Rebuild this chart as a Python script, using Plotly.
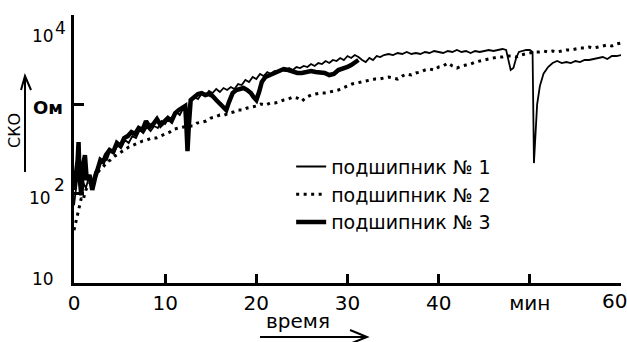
import plotly.graph_objects as go

# ---- data (time in minutes, RMS value in Ohm) ----
t1 = [0.0, 0.2, 0.4, 0.6, 0.8, 1.0, 1.3, 1.6, 2.0, 2.3, 2.6, 3.0, 3.3, 3.6, 4.0, 4.4, 4.8, 5.2, 5.6, 6.0,
      6.4, 6.8, 7.2, 7.6, 8.0, 8.4, 8.8, 9.2, 9.6, 10.0, 10.4, 10.8, 11.2, 11.6, 12.0, 12.4, 12.8, 13.2, 13.6, 14.0,
      14.4, 14.8, 15.2, 15.6, 16.0, 16.4, 16.8, 17.2, 17.6, 18.0, 18.4, 18.8, 19.2, 19.6, 20.0, 20.4, 20.8, 21.2, 21.6, 22.0,
      22.4, 22.8, 23.2, 23.6, 24.0, 24.4, 24.8, 25.2, 25.6, 26.0, 26.4, 26.8, 27.2, 27.6, 28.0, 28.4, 28.8, 29.2, 29.6, 30.0,
      30.4, 30.8, 31.2, 31.6, 32.0, 32.4, 32.8, 33.2, 33.6, 34.0, 34.5, 35.0, 35.5, 36.0, 36.5, 37.0, 37.5, 38.0, 38.5, 39.0,
      39.5, 40.0, 40.5, 41.0, 41.5, 42.0, 42.5, 43.0, 43.5, 44.0, 44.5, 45.0, 45.5, 46.0, 46.5, 47.0, 47.4, 47.7, 47.9, 48.2,
      48.5, 48.8, 49.2, 49.6, 50.0, 50.3, 50.45, 50.6, 50.8, 51.1, 51.5, 52.0, 52.5, 53.0, 53.5, 54.0, 54.5, 55.0, 55.5, 56.0,
      56.5, 57.0, 57.5, 58.0, 58.5, 59.0, 59.5, 60.0]
v1 = [74, 110, 162, 125, 184, 135, 115, 149, 131, 174, 193, 226, 250, 238, 308, 292, 350, 332, 398, 369,
      441, 419, 515, 477, 557, 502, 571, 543, 650, 602, 702, 667, 820, 759, 909, 820, 1117, 1207, 1146, 1304,
      1239, 1409, 1338, 1484, 1373, 1523, 1446, 1562, 1484, 1688, 1645, 1872, 1777, 2022, 1920, 2185, 2075, 2300, 2185, 2361,
      2300, 2422, 2361, 2551, 2422, 2617, 2551, 2686, 2617, 2828, 2686, 2901, 2828, 3055, 2901, 3135, 3055, 3301, 3135, 3475,
      3301, 3566, 3387, 3135, 2977, 3301, 3135, 3475, 3387, 3566, 3660, 3566, 3755, 3660, 3853, 3660, 3755, 3660, 3853, 3755,
      3954, 3853, 3755, 3954, 3853, 4057, 3853, 3954, 3755, 3954, 3853, 3954, 4057, 3954, 4057, 4163, 4057, 2977, 2422, 2551,
      3301, 3853, 3954, 4057, 4057, 3853, 220, 450, 1000, 1600, 2200, 2617, 2901, 3055, 2901, 2977, 2901, 3055, 2977, 3135,
      3135, 3217, 3301, 3387, 3217, 3475, 3475, 3566]

t2 = [0.0, 0.2, 0.4, 0.6, 0.8, 1.0, 1.3, 1.6, 2.0, 2.4, 2.8, 3.2, 3.6, 4.0, 4.5, 5.0, 5.5, 6.0, 6.5, 7.0,
      7.5, 8.0, 8.5, 9.0, 9.5, 10.0, 10.5, 11.0, 11.5, 12.0, 12.5, 13.0, 13.5, 14.0, 14.5, 15.0, 15.5, 16.0, 16.5, 17.0,
      17.5, 18.0, 18.5, 19.0, 19.5, 20.0, 20.5, 21.0, 21.5, 22.0, 22.5, 23.0, 23.5, 24.0, 24.5, 25.0, 25.5, 26.0, 26.5, 27.0,
      27.5, 28.0, 28.5, 29.0, 29.5, 30.0, 30.5, 31.0, 31.5, 32.0, 32.5, 33.0, 33.5, 34.0, 34.5, 35.0, 35.5, 36.0, 36.5, 37.0,
      37.5, 38.0, 38.5, 39.0, 39.5, 40.0, 40.5, 41.0, 41.5, 42.0, 42.5, 43.0, 43.5, 44.0, 44.5, 45.0, 45.5, 46.0, 46.5, 47.0,
      47.5, 48.0, 48.5, 49.0, 49.5, 50.0, 50.5, 51.0, 51.5, 52.0, 52.5, 53.0, 53.5, 54.0, 54.5, 55.0, 55.5, 56.0, 56.5, 57.0,
      57.5, 58.0, 58.5, 59.0, 59.5, 60.0]
v2 = [39, 48, 58, 74, 89, 85, 110, 125, 142, 157, 184, 199, 226, 238, 264, 285, 308, 332, 350, 369,
      388, 398, 419, 419, 441, 465, 489, 529, 543, 557, 571, 571, 617, 633, 650, 702, 721, 759, 759, 799,
      820, 863, 863, 909, 933, 957, 1008, 982, 1034, 1034, 1061, 1117, 1146, 1207, 1176, 1089, 1207, 1271, 1304, 1338,
      1338, 1373, 1409, 1446, 1523, 1603, 1688, 1732, 1777, 1824, 1872, 1920, 1920, 1971, 2022, 1971, 1920, 2075, 2185, 2129,
      2242, 2300, 2422, 2486, 2422, 2617, 2686, 2901, 2686, 2551, 2686, 2756, 2828, 2977, 3055, 3135, 3217, 3301, 3387, 3387,
      3475, 3475, 3387, 3566, 3660, 3755, 3853, 3853, 3954, 3853, 3954, 3853, 3954, 4057, 4057, 4163, 4271, 4271, 4382, 4271,
      4382, 4497, 4615, 4497, 4735, 4860]

t3 = [0.0, 0.2, 0.4, 0.5, 0.6, 0.8, 1.0, 1.2, 1.4, 1.7, 2.0, 2.3, 2.6, 2.9, 3.2, 3.5, 3.9, 4.3, 4.7, 5.1,
      5.5, 5.9, 6.3, 6.7, 7.1, 7.5, 7.9, 8.3, 8.7, 9.1, 9.5, 9.9, 10.3, 10.7, 11.1, 11.5, 11.9, 12.2, 12.35, 12.45,
      12.6, 12.8, 13.2, 13.6, 14.0, 14.4, 14.8, 15.2, 15.6, 16.0, 16.4, 16.7, 17.0, 17.4, 17.8, 18.2, 18.6, 19.0, 19.4, 19.7,
      20.0, 20.3, 20.6, 21.0, 21.5, 22.0, 22.5, 23.0, 23.5, 24.0, 24.5, 25.0, 25.5, 26.0, 26.5, 27.0, 27.5, 28.0, 28.5, 29.0,
      29.5, 30.0, 30.4, 30.8, 31.2]
v3 = [110, 162, 238, 378, 162, 96, 209, 270, 142, 162, 110, 149, 184, 238, 226, 270, 308, 292, 369, 341,
      419, 441, 489, 465, 543, 515, 650, 557, 602, 684, 586, 633, 702, 650, 799, 863, 909, 957, 515, 300,
      586, 1117, 1207, 1304, 1338, 1271, 1304, 1239, 1117, 1008, 909, 863, 1061, 1338, 1446, 1484, 1523, 1446, 1338, 1207,
      1117, 1373, 1777, 2022, 2129, 2242, 2422, 2486, 2422, 2300, 2242, 2242, 2300, 2361, 2300, 2300, 2242, 2129, 2185, 2422,
      2486, 2617, 2756, 2977, 3135]

names = ["подшипник № 1", "подшипник № 2", "подшипник № 3"]
x_tickvals = [0, 10, 20, 30, 40, 50, 60]
x_ticktext = ["0", "10", "20", "30", "40", "мин", ""]
x_last_label = "60"
y_tickvals = [10, 100, 1000, 10000]

FONT = "DejaVu Sans"

fig = go.Figure()
fig.add_trace(go.Scatter(x=t1, y=v1, mode="lines", name=names[0],
                         line=dict(color="black", width=1.8)))
fig.add_trace(go.Scatter(x=t2, y=v2, mode="lines", name=names[1],
                         line=dict(color="black", width=3, dash="3px,4.5px")))
fig.add_trace(go.Scatter(x=t3, y=v3, mode="lines", name=names[2],
                         line=dict(color="black", width=4.5)))

fig.update_layout(
    width=627, height=342,
    margin=dict(l=74, r=6, t=15, b=59, autoexpand=False),
    paper_bgcolor="white", plot_bgcolor="white",
    font=dict(family=FONT, size=20, color="black"),
    showlegend=True,
    legend=dict(x=0.397, y=0.505, xanchor="left", yanchor="top",
                bgcolor="rgba(0,0,0,0)", font=dict(size=19, family=FONT),
                tracegroupgap=0),
    xaxis=dict(range=[0, 60], showgrid=False, zeroline=False, automargin=False,
               showline=True, linecolor="black", linewidth=2.5,
               ticks="inside", ticklen=9, tickwidth=2.5, tickcolor="black",
               tickvals=x_tickvals, ticktext=x_ticktext,
               tickfont=dict(size=20, family=FONT)),
    yaxis=dict(type="log", range=[1, 4], showgrid=False, zeroline=False, automargin=False,
               showline=True, linecolor="black", linewidth=2.5,
               ticks="inside", ticklen=10, tickwidth=2.5, tickcolor="black",
               tickvals=y_tickvals, showticklabels=False),
)

def px2paper(px, py):
    return (px - 74) / 547.0, (283 - py) / 268.0

def ann(text, px, py, size, bold=False, angle=0):
    xp, yp = px2paper(px, py)
    fig.add_annotation(x=xp, y=yp, xref="paper", yref="paper", text=("<b>%s</b>" % text) if bold else text,
                       showarrow=False, xanchor="center", yanchor="middle", textangle=angle,
                       font=dict(size=size, family=FONT, color="black"))

# x label at the right end (kept inside the canvas)
ann(x_last_label, 614, 301, 20)
# y tick labels
ann("10", 43, 36, 17)
ann("4", 60, 28, 17)
ann("Ом", 48, 107, 18, bold=True)
ann("10", 40, 198, 17)
ann("2", 59, 185, 17)
ann("10", 43, 279, 17)
# axis titles
ann("СКО", 14, 131, 16, angle=-90)
ann("время", 298, 321, 20)

def seg_path(points):
    pts = [px2paper(a, b) for a, b in points]
    return "M " + " L ".join("%.4f,%.4f" % p for p in pts)

arrow_style = dict(color="black", width=2)
# vertical arrow near СКО
fig.add_shape(type="path", xref="paper", yref="paper", path=seg_path([(25, 172), (25, 77)]), line=arrow_style)
fig.add_shape(type="path", xref="paper", yref="paper", path=seg_path([(21, 90), (25, 76), (31, 90)]), line=arrow_style)
# horizontal arrow under время
fig.add_shape(type="path", xref="paper", yref="paper", path=seg_path([(260, 337), (366, 337)]), line=arrow_style)
fig.add_shape(type="path", xref="paper", yref="paper", path=seg_path([(350, 330), (367, 337), (352, 343)]), line=arrow_style)

fig.write_html("out.html")
